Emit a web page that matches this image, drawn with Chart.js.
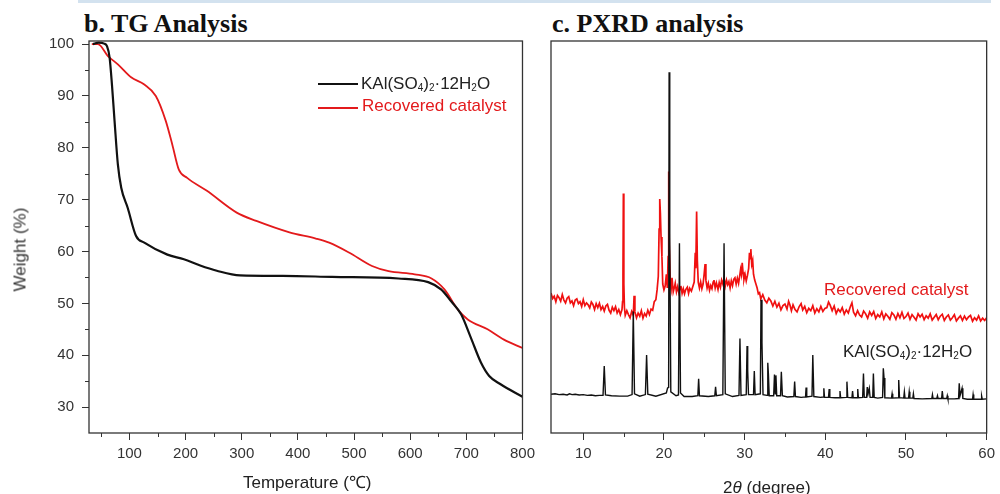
<!DOCTYPE html>
<html>
<head>
<meta charset="utf-8">
<script src="https://cdn.jsdelivr.net/npm/chart.js@4.4.1/dist/chart.umd.min.js"></script>
<style>
  body { margin: 0; width: 1000px; height: 494px; overflow: hidden; background: #fff; position: relative;
         font-family: 'Liberation Sans', Arial, sans-serif; color: #222; }
  #topline { position: absolute; left: 78px; top: 0; width: 913px; height: 3px; background: #d3e2ef; }
  .title { position: absolute; top: 11px; font-family: 'Liberation Serif', 'Times New Roman', serif;
           font-weight: bold; font-size: 26px; line-height: 26px; color: #111; white-space: nowrap; }
  .wrap { position: absolute; top: 0; height: 494px; }
  .lbl { position: absolute; font-size: 17px; line-height: 17px; white-space: nowrap; }
  .lbl sub { font-size: 10px; line-height: 0; vertical-align: -2px; }
  .red { color: #e31a1c; }
  .swatch { position: absolute; height: 2px; width: 40px; }
</style>
</head>
<body>
<div id="topline"></div>
<div class="title" style="left:84px">b. TG Analysis</div>
<div class="title" style="left:552px">c. PXRD analysis</div>

<div class="wrap" style="left:0;width:540px"><canvas id="tg"></canvas></div>
<div class="wrap" style="left:540px;width:460px"><canvas id="xrd"></canvas></div>

<!-- TG legend -->
<div class="swatch" style="left:318px;top:83px;background:#111"></div>
<div class="lbl" style="left:361px;top:75px">KAl(SO<sub>4</sub>)<sub>2</sub>·12H<sub>2</sub>O</div>
<div class="swatch" style="left:318px;top:107px;background:#e31a1c"></div>
<div class="lbl red" style="left:362px;top:97px">Recovered catalyst</div>

<!-- axis titles -->
<div class="lbl" style="left:-22px;top:241px;width:84px;text-align:center;transform:rotate(-90deg);color:#333">Weight (%)</div>
<div class="lbl" style="left:243px;top:474px">Temperature (℃)</div>
<div class="lbl" style="left:723px;top:479px">2<i>θ</i> (degree)</div>

<!-- PXRD labels -->
<div class="lbl red" style="left:824px;top:281px">Recovered catalyst</div>
<div class="lbl" style="left:843px;top:343px">KAl(SO<sub>4</sub>)<sub>2</sub>·12H<sub>2</sub>O</div>

<script>
// ---- TG data (temperature in C, weight in %) ----
const tgTempKAl   = [35, 45, 55, 60, 64.7, 69, 73.5, 79.4, 85.4, 97, 111.8, 126.5, 167.6, 197, 226, 255.6, 296.9, 373, 461, 579, 632, 655, 673, 690.7, 708, 726, 740.7, 761, 800];
const tgWeightKAl = [100.0, 100.3, 100.1, 99.6, 97.4, 92.0, 85.2, 76.8, 72.3, 68.4, 63.0, 61.7, 59.4, 58.5, 57.3, 56.3, 55.4, 55.3, 55.1, 54.8, 54.1, 52.7, 50.4, 47.9, 43.4, 38.6, 36.0, 34.4, 32.0];
const tgTempRec   = [33, 44, 61.7, 79.4, 103, 126.5, 147, 164.7, 176.4, 188, 202.8, 238, 291, 326, 385, 432, 455.7, 491, 532, 561.5, 608, 638, 661, 685, 702.5, 737.8, 767, 800];
const tgWeightRec = [100.0, 100.0, 97.7, 96.1, 93.6, 92.2, 90.0, 85.2, 80.6, 75.8, 74.2, 71.7, 67.5, 65.9, 63.7, 62.5, 61.7, 59.8, 57.2, 56.2, 55.6, 54.8, 52.7, 48.8, 46.9, 45.0, 43.0, 41.4];
const tgXTicks = [100, 200, 300, 400, 500, 600, 700, 800];
const tgXMinor = [50, 150, 250, 350, 450, 550, 650, 750];
const tgYTicks = [30, 40, 50, 60, 70, 80, 90, 100];
const tgYMinor = [35, 45, 55, 65, 75, 85, 95];

// ---- PXRD data [2theta, intensity a.u.] ----
const xrdKAl = [
  [6.0,9.9],[6.5,10.0],[7.0,9.8],[7.5,9.9],[8.0,9.7],[8.3,10.0],[8.6,9.8],[9.0,9.9],[9.5,9.7],[10.0,9.8],[10.5,9.6],
  [11.0,9.7],[11.5,9.5],[12.0,9.6],[12.45,9.6],[12.6,17.1],[12.75,9.7],[13.5,9.5],[14.5,9.4],[15.5,9.4],
  [16.05,9.8],[16.2,31.0],[16.35,10.0],[17.0,9.4],[17.7,9.8],[17.85,19.9],[18.0,9.9],[19.0,9.4],
  [20.3,10.2],[20.45,11.5],[20.58,11.6],[20.64,92.0],[20.72,50.0],[20.85,10.5],[21.5,9.5],[21.8,9.7],[21.92,48.4],[22.05,10.2],
  [22.5,9.3],[23.5,9.3],[24.2,9.5],[24.3,13.8],[24.4,9.5],[25.5,9.3],[26.3,9.5],[26.4,11.8],[26.5,9.5],
  [27.3,9.8],[27.45,48.4],[27.6,10.0],[28.5,9.3],[29.3,9.6],[29.42,24.1],[29.55,9.6],[30.2,9.8],[30.3,22.2],[30.38,16.0],[30.48,9.8],
  [31.1,9.8],[31.2,15.8],[31.3,9.8],[31.95,10.0],[32.03,34.0],[32.15,23.0],[32.28,9.8],[32.78,9.6],[32.87,17.9],[32.95,15.0],[33.05,9.5],
  [33.6,9.5],[33.7,14.9],[33.8,10.0],[33.88,14.7],[33.98,9.5],[34.45,9.5],[34.55,15.6],[34.68,9.5],[35.3,9.2],
  [36.1,9.3],[36.2,13.1],[36.3,9.3],[37.0,9.1],[37.55,9.2],[37.62,11.6],[37.7,9.2],[38.35,9.4],[38.45,19.9],[38.58,9.3],
  [39.4,9.1],[39.75,9.2],[39.82,11.4],[39.9,9.1],[40.4,9.1],[40.48,11.2],[40.56,9.1],[41.2,9.0],[41.75,9.0],[41.82,10.7],[41.9,9.0],
  [42.6,9.1],[42.68,13.1],[42.78,9.1],[43.3,9.0],[43.38,10.7],[43.46,9.0],[43.95,9.0],[44.02,11.2],[44.1,9.0],
  [44.63,9.1],[44.73,15.2],[44.83,9.1],[45.12,9.1],[45.2,11.7],[45.3,10.0],[45.45,11.4],[45.55,9.1],[45.88,9.1],[45.96,15.2],[46.06,9.1],
  [46.5,8.9],[47.1,9.1],[47.19,16.5],[47.28,14.0],[47.38,9.0],[48.2,8.9],[48.28,10.0],[48.36,8.9],[49.02,9.0],[49.1,13.5],[49.2,9.0],
  [49.72,8.9],[49.8,10.5],[49.88,8.9],[50.32,8.9],[50.4,10.5],[50.48,8.9],[50.85,8.9],[50.92,10.0],[51.0,8.8],[52.0,8.7],
  [53.2,8.8],[53.28,9.8],[53.36,8.8],[53.82,8.8],[53.9,9.5],[53.98,8.8],[54.42,8.8],[54.5,10.7],[54.6,8.8],[55.05,8.8],[55.12,9.5],[55.2,8.7],
  [56.0,8.7],[56.52,8.8],[56.6,12.7],[56.7,9.5],[56.95,11.4],[57.05,8.8],[57.6,8.6],[58.25,8.6],[58.32,9.8],[58.4,8.6],
  [59.3,8.6],[59.38,9.4],[59.46,8.6],[60.0,8.7]
];
const xrdRecovered = [
  [6.0,35.7],[6.2,34.3],[6.4,34.9],[6.6,33.5],[6.8,35.1],[7.0,34.5],[7.2,33.6],[7.4,35.3],[7.6,33.9],[7.8,33.2],
  [8.0,34.4],[8.2,34.8],[8.4,33.2],[8.6,33.7],[8.8,32.5],[9.0,33.9],[9.2,34.2],[9.4,33.0],[9.6,33.5],[9.8,32.3],
  [10.0,34.0],[10.2,32.5],[10.4,33.2],[10.6,32.7],[10.8,31.9],[11.0,33.4],[11.2,32.8],[11.4,31.5],[11.6,33.0],[11.8,32.0],
  [12.0,33.1],[12.2,31.5],[12.4,32.3],[12.6,31.1],[12.8,32.4],[13.0,32.8],[13.2,31.3],[13.4,30.6],[13.6,32.1],[13.8,31.2],
  [14.0,32.2],[14.2,30.6],[14.4,31.5],[14.6,30.2],[14.8,31.5],
  [14.87,33.5],[14.92,40.0],[14.97,61.1],[15.03,38.0],[15.1,32.0],
  [15.2,30.0],[15.4,31.2],[15.6,30.2],[15.8,29.4],[16.0,31.0],[16.2,30.0],[16.3,35.0],[16.4,30.9],[16.6,29.4],[16.8,30.6],
  [17.0,29.8],[17.2,31.2],[17.4,29.3],[17.6,30.5],[17.8,29.8],[18.0,31.3],[18.2,30.2],[18.4,31.6],[18.6,31.3],[18.8,33.5],[19.0,34.0],
  [19.15,36.5],[19.30,40.0],[19.40,52.0],[19.48,59.7],[19.56,56.0],[19.64,50.0],[19.75,45.0],[19.85,38.0],[20.00,36.5],
  [20.15,37.5],[20.30,40.5],[20.42,37.0],[20.52,45.0],[20.59,66.7],[20.66,48.0],[20.78,39.0],[20.90,37.0],[21.00,39.6],
  [21.15,36.0],[21.30,37.2],[21.40,38.2],[21.55,36.0],[21.70,37.3],[21.85,35.8],[22.00,37.0],[22.10,37.5],[22.25,35.6],
  [22.40,36.8],[22.55,35.5],[22.70,36.6],[22.90,37.2],[23.05,35.6],[23.20,36.9],[23.40,36.2],[23.60,37.5],[23.75,38.5],
  [23.88,46.0],[23.95,42.0],[24.05,56.5],[24.14,44.0],[24.25,38.5],[24.40,37.0],[24.55,38.5],[24.70,36.8],[24.85,38.0],
  [24.98,40.5],[25.10,43.1],[25.20,39.0],[25.35,37.0],[25.50,38.2],[25.65,36.4],[25.80,37.6],[25.95,36.8],[26.10,38.5],
  [26.20,39.0],[26.35,37.0],[26.50,38.3],[26.70,36.6],[26.85,38.4],[27.00,37.2],[27.15,39.0],[27.30,38.0],[27.45,39.4],
  [27.60,37.5],[27.75,39.0],[27.90,37.8],[28.05,38.6],[28.20,37.0],[28.35,38.8],[28.50,37.6],[28.65,39.2],[28.80,39.6],
  [28.95,38.0],[29.10,39.5],[29.25,38.2],[29.40,40.2],[29.50,41.7],[29.60,40.5],[29.70,43.4],[29.80,41.0],[29.92,39.2],
  [30.05,40.5],[30.20,38.8],[30.35,40.2],[30.50,42.0],[30.60,46.0],[30.68,44.5],[30.77,46.9],[30.88,43.0],[31.00,44.0],
  [31.10,40.5],[31.25,39.0],[31.40,38.0],[31.55,37.0],[31.70,35.5],[31.85,35.8],
  [32.00,34.2],[32.25,35.3],[32.50,33.9],[32.75,33.2],[33.00,34.4],[33.25,33.7],[33.50,32.4],[33.75,33.6],[34.00,32.1],
  [34.25,33.1],[34.50,31.4],[34.75,32.5],[35.00,32.9],[35.25,31.6],[35.45,33.6],[35.60,32.8],[35.80,31.2],[36.00,32.7],
  [36.25,31.5],[36.50,30.9],[36.75,32.2],[37.00,33.0],[37.20,31.4],[37.45,32.3],[37.70,30.7],[37.95,31.8],[38.20,31.2],
  [38.45,32.5],[38.70,30.6],[38.95,31.7],[39.20,30.9],[39.45,32.3],[39.70,31.0],[39.95,31.8],[40.20,32.0],[40.40,33.4],
  [40.60,32.6],[40.85,31.2],[41.10,32.4],[41.35,30.5],[41.60,31.6],[41.85,30.9],[42.10,32.0],[42.35,30.3],[42.60,31.4],
  [42.85,30.6],[43.10,32.2],[43.30,33.2],[43.50,30.8],[43.75,29.9],[44.00,31.2],[44.25,30.1],[44.50,29.6],[44.75,31.1],
  [45.00,30.4],[45.25,29.3],[45.50,30.9],[45.75,30.0],[46.00,31.0],[46.25,29.2],[46.50,30.2],[46.75,29.6],[47.00,30.9],
  [47.25,29.1],[47.50,30.4],[47.75,29.8],[48.00,29.0],[48.25,30.7],[48.50,30.1],[48.75,29.0],[49.00,30.5],[49.25,29.4],
  [49.50,30.8],[49.75,29.2],[50.00,29.7],[50.25,30.6],[50.50,29.0],[50.75,30.2],[51.00,29.5],[51.25,28.8],[51.50,30.4],
  [51.75,29.6],[52.00,30.3],[52.25,28.9],[52.50,29.9],[52.75,29.3],[53.00,30.4],[53.25,28.8],[53.50,29.5],[53.75,30.2],
  [54.00,28.9],[54.25,29.8],[54.50,30.3],[54.75,28.7],[55.00,29.6],[55.25,30.1],[55.50,28.8],[55.75,29.4],[56.00,30.2],
  [56.25,28.6],[56.50,29.3],[56.75,29.9],[57.00,28.7],[57.25,29.8],[57.50,28.9],[57.75,29.6],[58.00,30.0],[58.25,28.5],
  [58.50,29.4],[58.75,28.8],[59.00,29.9],[59.25,28.6],[59.50,29.3],[59.75,28.7],[60.00,29.4]
];
const xrdXTicks = [10, 20, 30, 40, 50, 60];
const xrdXMinor = [15, 25, 35, 45, 55];

const RED = '#e31a1c';
const AXIS = '#333';

// frame round the plot area plus the short minor ticks
const framePlugin = {
  id: 'frame',
  afterDraw(chart, args, opts) {
    const { ctx, chartArea: a } = chart;
    ctx.save();
    ctx.strokeStyle = AXIS;
    ctx.lineWidth = 1;
    (opts.xMinor || []).forEach(v => {
      const px = Math.round(chart.scales.x.getPixelForValue(v)) + 0.5;
      ctx.beginPath(); ctx.moveTo(px, a.bottom); ctx.lineTo(px, a.bottom + 4); ctx.stroke();
    });
    (opts.yMinor || []).forEach(v => {
      const py = Math.round(chart.scales.y.getPixelForValue(v)) + 0.5;
      ctx.beginPath(); ctx.moveTo(a.left, py); ctx.lineTo(a.left - 4, py); ctx.stroke();
    });
    ctx.lineWidth = 1.3;
    ctx.strokeRect(a.left, a.top, a.right - a.left, a.bottom - a.top);
    ctx.restore();
  }
};

function fixedTicks(list) {
  return scale => { scale.ticks = list.map(v => ({ value: v })); };
}

const tickFont = { family: "'Liberation Sans', Arial, sans-serif", size: 15 };

new Chart(document.getElementById('tg'), {
  type: 'line',
  data: {
    datasets: [
      {
        label: 'KAl(SO4)2·12H2O',
        data: tgTempKAl.map((t, i) => ({ x: t, y: tgWeightKAl[i] })),
        borderColor: '#111', borderWidth: 2.2, pointRadius: 0, cubicInterpolationMode: 'monotone'
      },
      {
        label: 'Recovered catalyst',
        data: tgTempRec.map((t, i) => ({ x: t, y: tgWeightRec[i] })),
        borderColor: RED, borderWidth: 1.8, pointRadius: 0, cubicInterpolationMode: 'monotone'
      }
    ]
  },
  options: {
    responsive: true, maintainAspectRatio: false, animation: false,
    layout: { padding: { top: 41, right: 13, left: 0, bottom: 0 } },
    plugins: { legend: { display: false }, tooltip: { enabled: false },
               frame: { xMinor: tgXMinor, yMinor: tgYMinor } },
    scales: {
      x: {
        type: 'linear', min: 28, max: 800,
        afterBuildTicks: fixedTicks(tgXTicks),
        afterFit: s => { s.height = 61; },
        grid: { drawOnChartArea: false, tickLength: 7, tickColor: AXIS },
        border: { display: false },
        ticks: { color: AXIS, font: tickFont, padding: 5, maxRotation: 0 }
      },
      y: {
        type: 'linear', min: 25, max: 100.6,
        afterBuildTicks: fixedTicks(tgYTicks),
        afterFit: s => { s.width = 89; },
        grid: { drawOnChartArea: false, tickLength: 7, tickColor: AXIS },
        border: { display: false },
        ticks: { color: AXIS, font: tickFont, padding: 8 }
      }
    }
  },
  plugins: [framePlugin]
});

new Chart(document.getElementById('xrd'), {
  type: 'line',
  data: {
    datasets: [
      {
        label: 'KAl(SO4)2·12H2O',
        data: xrdKAl.map(p => ({ x: p[0], y: p[1] })),
        borderColor: '#111', borderWidth: 1.4, pointRadius: 0, tension: 0
      },
      {
        label: 'Recovered catalyst',
        data: xrdRecovered.map(p => ({ x: p[0], y: p[1] })),
        borderColor: '#f01010', borderWidth: 1.7, pointRadius: 0, tension: 0
      }
    ]
  },
  options: {
    responsive: true, maintainAspectRatio: false, animation: false,
    layout: { padding: { top: 41, right: 10, left: 11, bottom: 0 } },
    plugins: { legend: { display: false }, tooltip: { enabled: false },
               frame: { xMinor: xrdXMinor } },
    scales: {
      x: {
        type: 'linear', min: 6, max: 60,
        afterBuildTicks: fixedTicks(xrdXTicks),
        afterFit: s => { s.height = 61; },
        grid: { drawOnChartArea: false, tickLength: 7, tickColor: AXIS },
        border: { display: false },
        ticks: { color: AXIS, font: tickFont, padding: 5, maxRotation: 0 }
      },
      y: { type: 'linear', min: 0, max: 100, display: false }
    }
  },
  plugins: [framePlugin]
});
</script>
</body>
</html>
